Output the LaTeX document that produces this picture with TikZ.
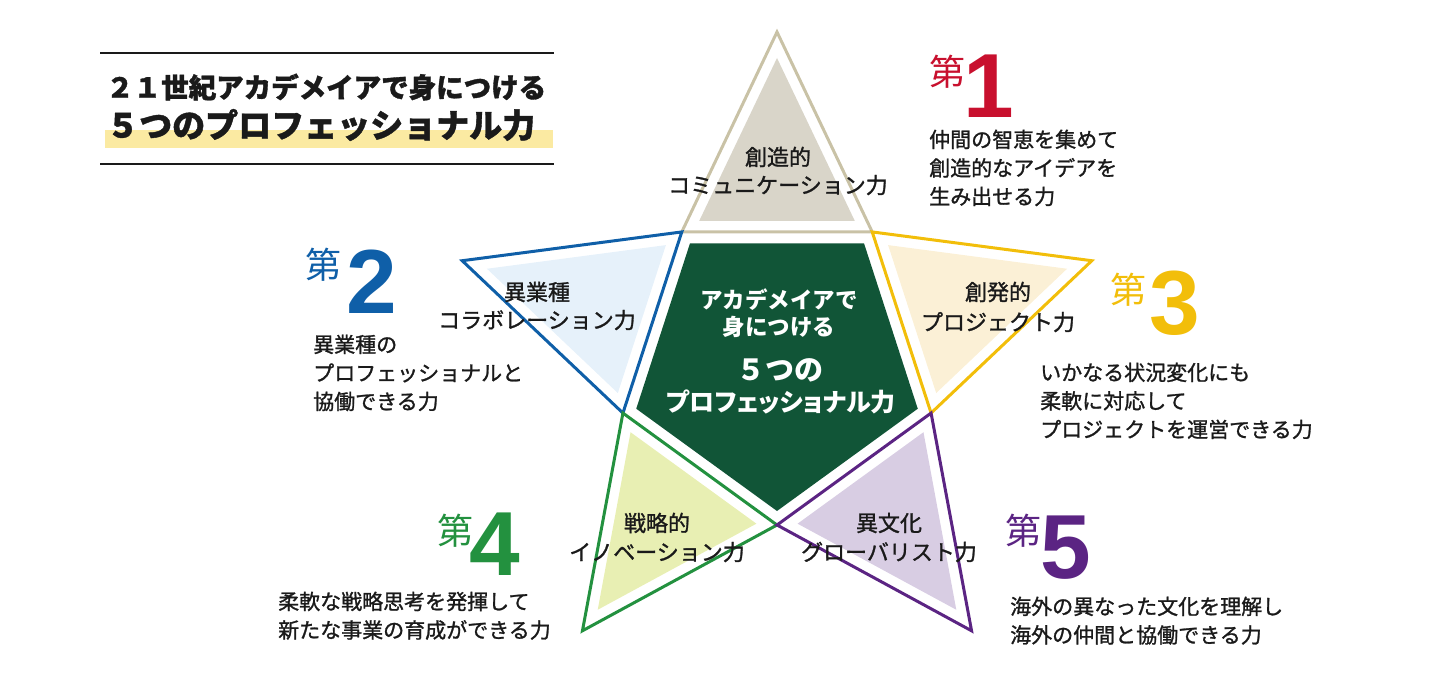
\documentclass[tikz,border=0pt]{standalone}
\usepackage{fontspec}
\setmainfont{Noto Sans CJK JP}
\newfontfamily\jpm[FakeBold=1.2]{Noto Sans CJK JP}
\newfontfamily\jph[BoldFeatures={FakeBold=1.2}]{Noto Sans CJK JP}
\newfontfamily\jpp[RawFeature=+palt]{Noto Sans CJK JP}
\newfontfamily\numfont{Liberation Sans}
\newcommand\setfs[2]{\fontsize{#1}{#2}\selectfont}
\definecolor{strA}{HTML}{C9C2A6}\definecolor{fillA}{HTML}{D9D5C9}
\definecolor{strB}{HTML}{0F5FA8}\definecolor{fillB}{HTML}{E6F1FA}
\definecolor{strC}{HTML}{F2BE0A}\definecolor{fillC}{HTML}{FBF0D6}
\definecolor{strD}{HTML}{23913F}\definecolor{fillD}{HTML}{E8EFB3}
\definecolor{strE}{HTML}{5B2483}\definecolor{fillE}{HTML}{D8CDE3}
\definecolor{coreg}{HTML}{115537}
\definecolor{redone}{HTML}{C8102E}
\definecolor{hiyel}{HTML}{FBEAA2}
\definecolor{txt}{HTML}{1A1A1A}
\begin{document}
\begin{tikzpicture}[x=1pt,y=1pt,
  tri/.style={inner sep=0pt,align=center,text=txt,font=\jpm\setfs{22}{28}},
  desc/.style={inner sep=0pt,align=left,anchor=north west,text=txt,font=\jpm\setfs{21}{28.5}},
  dai/.style={inner sep=0pt,font=\setfs{36}{40}},
  num/.style={inner sep=0pt,anchor=base,text depth=0pt,font=\numfont\bfseries\setfs{91}{91}},
  rule/.style={line width=1.5pt,draw=txt}]
\useasboundingbox (0,0) rectangle (1453,681);
% title
\fill[hiyel] (105,533) rectangle (553,551);
\draw[rule] (100,628) -- (554,628);
\draw[rule] (100,517) -- (554,517);
\node[inner sep=0pt,anchor=west,text=txt] (title1) at (106,594) {\jph\setfs{27.5}{30}\bfseries ２１世紀アカデメイアで身につける};
\node[inner sep=0pt,anchor=west,text=txt] (title2) at (106,556) {\jph\setfs{33}{36}\bfseries ５つのプロフェッショナル力};
% star
\begin{scope}[shift={(777,318)}]
\foreach \a/\fc/\sc in {90/fillA/strA,162/fillB/strB,18/fillC/strC,234/fillD/strD,306/fillE/strE}{
  \fill[\fc] (\a:305) -- (\a+28.7:162) -- (\a-28.7:162) -- cycle;
  \draw[\sc,line width=3pt] (\a:331) -- (\a+36:162) -- (\a-36:162) -- cycle;
}
\fill[coreg] (54:148) -- (126:148) -- (198:148) -- (270:148) -- (342:148) -- cycle;
\end{scope}
% center text
\node[inner sep=0pt,align=center,text=white,font=\setfs{22.5}{27}\bfseries] (core1) at (779,367.5) {アカデメイアで\\身につける};
\node[inner sep=0pt,align=center,text=white,font=\setfs{29}{32}\bfseries] (core2) at (780,311) {５つの};
\node[inner sep=0pt,align=center,text=white,font=\jpp\setfs{25}{30}\bfseries] (core3) at (781,279) {プロフェッショナル力};
% triangle labels
\node[tri] (l1) at (778,510) {創造的\\コミュニケーション力};
\node[tri] (l2) at (537,375) {異業種\\コラボレーション力};
\node[tri,font=\jpm\setfs{22}{30}] (l3) at (998,374) {創発的\\プロジェクト力};
\node[tri,font=\jpm\setfs{22}{29}] (l4) at (657,143.5) {戦略的\\イノベーション力};
\node[tri,font=\jpm\setfs{22}{29}] (l5) at (889,143.5) {異文化\\グローバリスト力};
% numbers
\node[dai,text=redone] (d1) at (947,609) {第};
\node[num,text=redone] (n1) at (989,563) {1};
\node[dai,text=strB] (d2) at (323,416) {第};
\node[num,text=strB] (n2) at (372,367) {2};
\node[dai,text=strC] (d3) at (1128,391) {第};
\node[num,text=strC] (n3) at (1175,346) {3};
\node[dai,text=strD] (d4) at (455,150) {第};
\node[num,text=strD] (n4) at (495,106) {4};
\node[dai,text=strE] (d5) at (1023,150) {第};
\node[num,text=strE] (n5) at (1066,103) {5};
% descriptions
\node[desc] (t1) at (929,551.5) {仲間の智恵を集めて\\創造的なアイデアを\\生み出せる力};
\node[desc] (t2) at (313,346.5) {異業種の\\プロフェッショナルと\\協働できる力};
\node[desc] (t3) at (1040,318.5) {いかなる状況変化にも\\柔軟に対応して\\プロジェクトを運営できる力};
\node[desc] (t4) at (278,89.5) {柔軟な戦略思考を発揮して\\新たな事業の育成ができる力};
\node[desc] (t5) at (1010,84.5) {海外の異なった文化を理解し\\海外の仲間と協働できる力};
\end{tikzpicture}
\end{document}
